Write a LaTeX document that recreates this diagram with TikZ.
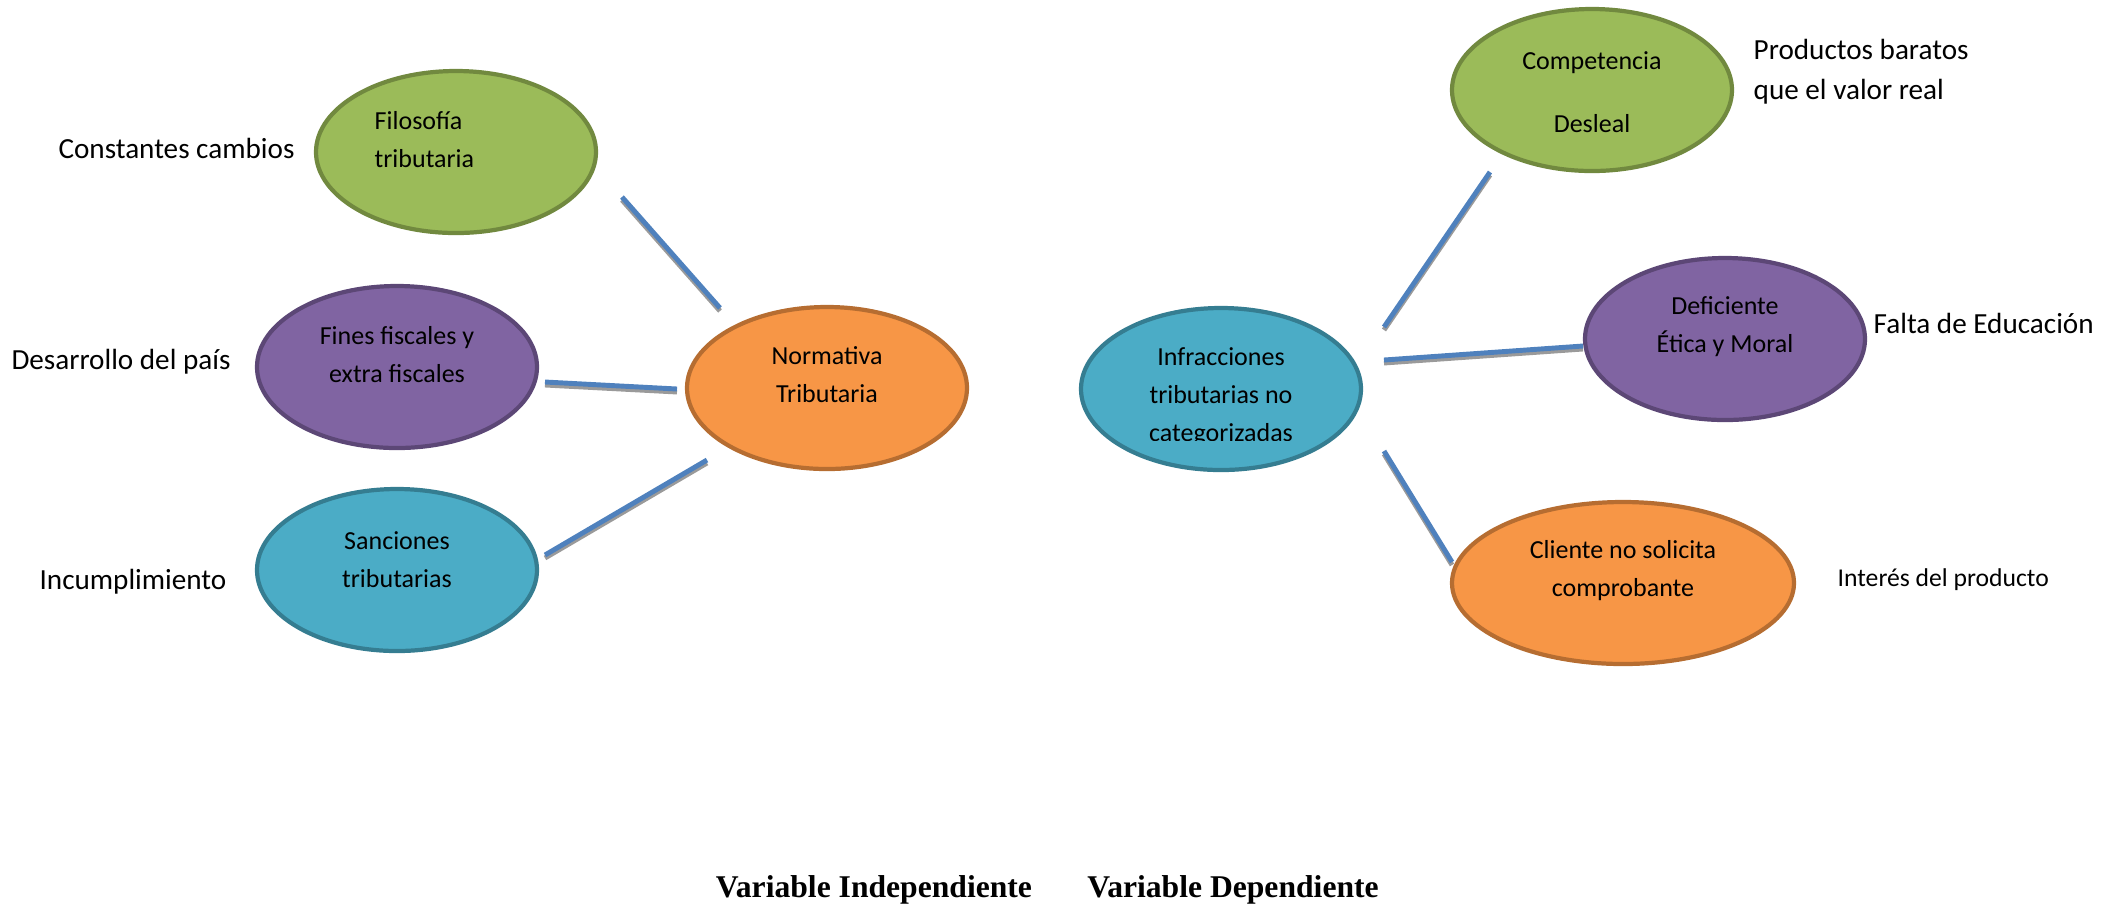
\documentclass[tikz,border=0pt]{standalone}
\usepackage{fontspec}
\setmainfont{Carlito}
\newfontfamily\timesfam{Liberation Serif}
\usetikzlibrary{shapes.geometric}
\definecolor{gfill}{HTML}{9BBB59}
\definecolor{gline}{HTML}{71893F}
\definecolor{pfill}{HTML}{8064A2}
\definecolor{pline}{HTML}{5C4776}
\definecolor{afill}{HTML}{4BACC6}
\definecolor{aline}{HTML}{357D91}
\definecolor{ofill}{HTML}{F79646}
\definecolor{oline}{HTML}{B66D31}
\definecolor{cblue}{HTML}{4F81BD}
\definecolor{cshadow}{HTML}{9A9A9A}
\tikzset{
  oval/.style={ellipse, inner sep=0pt, line width=1.2pt, minimum width=2.80cm, minimum height=1.62cm},
  greenoval/.style={oval, draw=gline, fill=gfill},
  purpleoval/.style={oval, draw=pline, fill=pfill},
  aquaoval/.style={oval, draw=aline, fill=afill},
  orangeoval/.style={oval, draw=oline, fill=ofill},
  intext/.style={inner sep=0pt, align=center, font=\fontsize{7.4}{10.8}\selectfont},
  outtext/.style={inner sep=0pt, align=left, font=\fontsize{8.3}{11.4}\selectfont},
  smalltext/.style={inner sep=0pt, align=left, font=\fontsize{7.3}{10.5}\selectfont},
  foot/.style={inner sep=0pt, font=\timesfam\bfseries\fontsize{9}{11}\selectfont},
  conn/.style={draw=cblue, line width=1.4pt,
    preaction={draw=cshadow, line width=1.4pt, transform canvas={yshift=-0.85pt}}}
}
\begin{document}
\begin{tikzpicture}
\useasboundingbox (0,0) rectangle (21.09,-9.08);

% ellipses
\node[greenoval]  (fil) at (4.56,-1.52) {};
\node[orangeoval] (nor) at (8.27,-3.88) {};
\node[purpleoval] (fin) at (3.97,-3.67) {};
\node[aquaoval]   (san) at (3.97,-5.70) {};
\node[aquaoval]   (inf) at (12.21,-3.89) {};
\node[greenoval]  (com) at (15.92,-0.90) {};
\node[purpleoval] (def) at (17.25,-3.39) {};
\node[orangeoval, minimum width=3.42cm] (cli) at (16.23,-5.83) {};

% texts inside
\node[intext, align=left, anchor=west] (tfil) at (3.74,-1.40) {Filosofía\\tributaria};
\node[intext] (tnor) at (8.27,-3.75) {Normativa\\Tributaria};
\node[intext] (tfin) at (3.97,-3.55) {Fines fiscales y\\extra fiscales};
\node[intext] (tsan) at (3.97,-5.595) {Sanciones\\tributarias};
\begin{scope}
  \clip (10.5,-2.9) rectangle (14.0,-4.405);
  \node[intext] (tinf) at (12.21,-3.97) {Infracciones\\tributarias no\\categorizadas};
\end{scope}
\node[intext, font=\fontsize{7.4}{17.9}\selectfont] (tcom) at (15.92,-0.92) {Competencia\\Desleal};
\node[intext] (tdef) at (17.25,-3.27) {Deficiente\\Ética y Moral};
\node[intext] (tcli) at (16.23,-5.71) {Cliente no solicita\\comprobante};

% outside labels
\node[outtext] (lcon) at (1.765,-1.48) {Constantes cambios};
\node[outtext] (ldes) at (1.21,-3.62) {Desarrollo del país};
\node[outtext] (linc) at (1.33,-5.82) {Incumplimiento};
\node[outtext, anchor=west] (lpro) at (17.53,-0.72) {Productos baratos\\que el valor real};
\node[outtext, anchor=west] (lfal) at (18.73,-3.23) {Falta de Educación};
\node[smalltext, anchor=west] (lint) at (18.37,-5.80) {Interés del producto};

% footer
\node[foot] (vind) at (8.74,-8.90) {Variable Independiente};
\node[foot] (vdep) at (12.33,-8.90) {Variable Dependiente};

% connector ends
\coordinate (c1a) at (6.22,-1.97);  \coordinate (c1b) at (7.20,-3.08);
\coordinate (c2a) at (5.45,-3.82);  \coordinate (c2b) at (6.77,-3.89);
\coordinate (c3a) at (5.45,-5.55);  \coordinate (c3b) at (7.07,-4.60);
\coordinate (c4a) at (13.84,-3.27); \coordinate (c4b) at (14.90,-1.72);
\coordinate (c5a) at (13.84,-3.60); \coordinate (c5b) at (15.83,-3.46);
\coordinate (c6a) at (13.84,-4.51); \coordinate (c6b) at (14.52,-5.62);

\draw[conn] (c1a) -- (c1b);
\draw[conn] (c2a) -- (c2b);
\draw[conn] (c3a) -- (c3b);
\draw[conn] (c4a) -- (c4b);
\draw[conn] (c5a) -- (c5b);
\draw[conn] (c6a) -- (c6b);
\end{tikzpicture}
\end{document}
